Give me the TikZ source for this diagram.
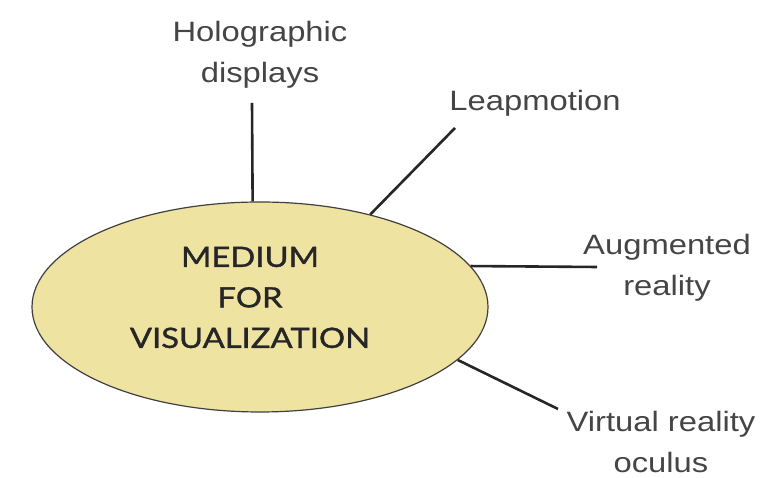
\documentclass[tikz,border=0pt]{standalone}
\usepackage{fontspec}
\setmainfont{Liberation Sans}[FakeStretch=1.17]
\newfontfamily\ovalfont{Lato}[FakeStretch=1.17,FakeBold=1.2]
\usepackage{tikz}
\usetikzlibrary{shapes.geometric}
\definecolor{ovalfill}{HTML}{EFE3A2}
\definecolor{labelgray}{HTML}{454545}

\begin{document}
\begin{tikzpicture}[x=1pt,y=1pt]
	\useasboundingbox (0,0) rectangle (772,478);
	\begin{scope}[every node/.style = {align=center, inner sep=0pt, text=labelgray,
		font=\fontsize{28}{41}\selectfont}]
		\node [ellipse, draw=black!75, line width=1.2pt, fill=ovalfill,
			minimum width=456pt, minimum height=210pt] (M) at (260,171) {};
		\node [font=\ovalfont\fontsize{28}{40.5}\selectfont, text=black!85] (T) at (250,180.5) {MEDIUM\\FOR\\VISUALIZATION};
		\node (H) at (260,423.7) {Holographic\\displays};
		\node (L) at (535,375) {Leapmotion};
		\node (A) at (667,210) {Augmented\\reality};
		\node (V) at (661,36) {Virtual reality\\oculus};
	\end{scope}
	\coordinate (Ht) at (252,375);
	\coordinate (Lt) at (455,350);
	\coordinate (At) at (597,211);
	\coordinate (Vt) at (558,69);
	\begin{scope}[every edge/.style={draw=black!85, line width=2.6pt}]
		\path (M.94) edge (Ht);
		\path (M.40) edge (Lt);
		\path (M.11) edge (At);
		\path (M.-15) edge (Vt);
	\end{scope}
\end{tikzpicture}
\end{document}
